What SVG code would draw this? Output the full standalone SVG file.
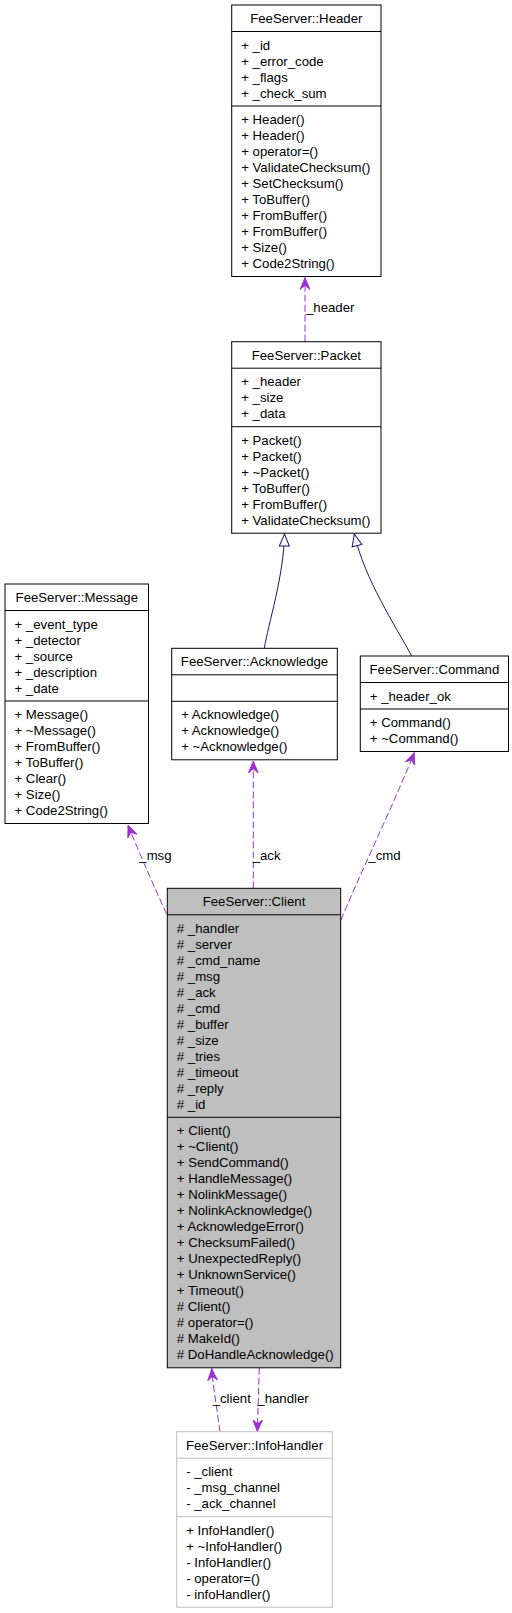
<svg xmlns="http://www.w3.org/2000/svg" width="512" height="1613" viewBox="0 0 512 1613">
<style>
text{font-family:"Liberation Sans",Arial,Helvetica,sans-serif;font-size:13.2px;fill:#000}
.t{text-anchor:middle}
.box{fill:#fff;stroke:#000;stroke-width:1}
.ln{stroke:#000;stroke-width:1}
.gbox{fill:#fff;stroke:#bfbfbf;stroke-width:1}
.gln{stroke:#bfbfbf;stroke-width:1}
.cbox{fill:#bfbfbf;stroke:#000;stroke-width:1}
.use{fill:none;stroke:#9a32cd;stroke-width:1;stroke-dasharray:7,3;marker-end:url(#vee)}
.inh{fill:none;stroke:#191970;stroke-width:1;marker-end:url(#tri)}
</style>
<defs>
<marker id="vee" markerUnits="userSpaceOnUse" markerWidth="14" markerHeight="12" refX="12" refY="5" orient="auto" viewBox="0 0 14 10">
<path d="M0,0 L12,5 L0,10 L4,5 Z" fill="#9a32cd" stroke="#9a32cd" stroke-width="0.8"/>
</marker>
<marker id="tri" markerUnits="userSpaceOnUse" markerWidth="16" markerHeight="14" refX="13" refY="6" orient="auto" viewBox="0 0 16 12">
<path d="M1,1 L13,6 L1,11 Z" fill="#fff" stroke="#191970" stroke-width="1"/>
</marker>
</defs>

<g id="connectors">
<path class="use" d="M305,341.7 L305,277.5"/>
<path class="inh" d="M264.3,648.3 C268,625 284,575 284.5,534"/>
<path class="inh" d="M411.7,656 C395,625 365,580 354.3,534"/>
<path class="use" d="M166.5,914 C158,895 140,855 128,825"/>
<path class="use" d="M253.3,888.3 L253.3,761"/>
<path class="use" d="M341,920 C355,885 400,790 414.3,752.5"/>
<path class="use" d="M220,1431.7 C217,1410 213,1385 211.7,1368.5"/>
<path class="use" d="M259.3,1367.8 L257.3,1431.7"/>
<text x="306" y="312">_header</text>
<text x="139.3" y="859.5">_msg</text>
<text x="252.7" y="859.5">_ack</text>
<text x="368.3" y="859.5">_cmd</text>
<text x="212.7" y="1403">_client</text>
<text x="257.3" y="1403">_handler</text>
</g>

<g id="header">
<rect class="box" x="231.7" y="5" width="149.3" height="271.5"/>
<line class="ln" x1="231.7" y1="31.5" x2="381" y2="31.5"/>
<line class="ln" x1="231.7" y1="106" x2="381" y2="106"/>
<text class="t" x="306.3" y="23">FeeServer::Header</text>
<text x="241.2" y="49.5">+ _id</text>
<text x="241.2" y="65.5">+ _error_code</text>
<text x="241.2" y="81.5">+ _flags</text>
<text x="241.2" y="97.5">+ _check_sum</text>
<text x="241.2" y="124">+ Header()</text>
<text x="241.2" y="140">+ Header()</text>
<text x="241.2" y="156">+ operator=()</text>
<text x="241.2" y="172">+ ValidateChecksum()</text>
<text x="241.2" y="188">+ SetChecksum()</text>
<text x="241.2" y="204">+ ToBuffer()</text>
<text x="241.2" y="220">+ FromBuffer()</text>
<text x="241.2" y="236">+ FromBuffer()</text>
<text x="241.2" y="252">+ Size()</text>
<text x="241.2" y="268">+ Code2String()</text>
</g>

<g id="packet">
<rect class="box" x="231.7" y="341.7" width="149.3" height="191.5"/>
<line class="ln" x1="231.7" y1="368.2" x2="381" y2="368.2"/>
<line class="ln" x1="231.7" y1="426.7" x2="381" y2="426.7"/>
<text class="t" x="306.3" y="359.7">FeeServer::Packet</text>
<text x="241.2" y="386.2">+ _header</text>
<text x="241.2" y="402.2">+ _size</text>
<text x="241.2" y="418.2">+ _data</text>
<text x="241.2" y="444.7">+ Packet()</text>
<text x="241.2" y="460.7">+ Packet()</text>
<text x="241.2" y="476.7">+ ~Packet()</text>
<text x="241.2" y="492.7">+ ToBuffer()</text>
<text x="241.2" y="508.7">+ FromBuffer()</text>
<text x="241.2" y="524.7">+ ValidateChecksum()</text>
</g>

<g id="message">
<rect class="box" x="5" y="584" width="143.5" height="239.5"/>
<line class="ln" x1="5" y1="610.5" x2="148.5" y2="610.5"/>
<line class="ln" x1="5" y1="701" x2="148.5" y2="701"/>
<text class="t" x="76.8" y="602">FeeServer::Message</text>
<text x="14.5" y="628.5">+ _event_type</text>
<text x="14.5" y="644.5">+ _detector</text>
<text x="14.5" y="660.5">+ _source</text>
<text x="14.5" y="676.5">+ _description</text>
<text x="14.5" y="692.5">+ _date</text>
<text x="14.5" y="719">+ Message()</text>
<text x="14.5" y="735">+ ~Message()</text>
<text x="14.5" y="751">+ FromBuffer()</text>
<text x="14.5" y="767">+ ToBuffer()</text>
<text x="14.5" y="783">+ Clear()</text>
<text x="14.5" y="799">+ Size()</text>
<text x="14.5" y="815">+ Code2String()</text>
</g>

<g id="acknowledge">
<rect class="box" x="171.7" y="648.3" width="165.6" height="111.5"/>
<line class="ln" x1="171.7" y1="674.8" x2="337.3" y2="674.8"/>
<line class="ln" x1="171.7" y1="701.3" x2="337.3" y2="701.3"/>
<text class="t" x="254.5" y="666.3">FeeServer::Acknowledge</text>
<text x="181.2" y="719.3">+ Acknowledge()</text>
<text x="181.2" y="735.3">+ Acknowledge()</text>
<text x="181.2" y="751.3">+ ~Acknowledge()</text>
</g>

<g id="command">
<rect class="box" x="360.3" y="656" width="148.2" height="95.5"/>
<line class="ln" x1="360.3" y1="682.5" x2="508.5" y2="682.5"/>
<line class="ln" x1="360.3" y1="709" x2="508.5" y2="709"/>
<text class="t" x="434.4" y="674">FeeServer::Command</text>
<text x="369.8" y="700.5">+ _header_ok</text>
<text x="369.8" y="727">+ Command()</text>
<text x="369.8" y="743">+ ~Command()</text>
</g>

<g id="client">
<rect class="cbox" x="167.3" y="888.3" width="173.4" height="479.5"/>
<line class="ln" x1="167.3" y1="914.8" x2="340.7" y2="914.8"/>
<line class="ln" x1="167.3" y1="1117.3" x2="340.7" y2="1117.3"/>
<text class="t" x="254" y="906.3">FeeServer::Client</text>
<text x="176.8" y="932.8"># _handler</text>
<text x="176.8" y="948.8"># _server</text>
<text x="176.8" y="964.8"># _cmd_name</text>
<text x="176.8" y="980.8"># _msg</text>
<text x="176.8" y="996.8"># _ack</text>
<text x="176.8" y="1012.8"># _cmd</text>
<text x="176.8" y="1028.8"># _buffer</text>
<text x="176.8" y="1044.8"># _size</text>
<text x="176.8" y="1060.8"># _tries</text>
<text x="176.8" y="1076.8"># _timeout</text>
<text x="176.8" y="1092.8"># _reply</text>
<text x="176.8" y="1108.8"># _id</text>
<text x="176.8" y="1135.3">+ Client()</text>
<text x="176.8" y="1151.3">+ ~Client()</text>
<text x="176.8" y="1167.3">+ SendCommand()</text>
<text x="176.8" y="1183.3">+ HandleMessage()</text>
<text x="176.8" y="1199.3">+ NolinkMessage()</text>
<text x="176.8" y="1215.3">+ NolinkAcknowledge()</text>
<text x="176.8" y="1231.3">+ AcknowledgeError()</text>
<text x="176.8" y="1247.3">+ ChecksumFailed()</text>
<text x="176.8" y="1263.3">+ UnexpectedReply()</text>
<text x="176.8" y="1279.3">+ UnknownService()</text>
<text x="176.8" y="1295.3">+ Timeout()</text>
<text x="176.8" y="1311.3"># Client()</text>
<text x="176.8" y="1327.3"># operator=()</text>
<text x="176.8" y="1343.3"># MakeId()</text>
<text x="176.8" y="1359.3"># DoHandleAcknowledge()</text>
</g>

<g id="infohandler">
<rect class="gbox" x="176.7" y="1431.7" width="155.6" height="175.5"/>
<line class="gln" x1="176.7" y1="1458.2" x2="332.3" y2="1458.2"/>
<line class="gln" x1="176.7" y1="1516.7" x2="332.3" y2="1516.7"/>
<text class="t" x="254.5" y="1449.7">FeeServer::InfoHandler</text>
<text x="186.2" y="1476.2">- _client</text>
<text x="186.2" y="1492.2">- _msg_channel</text>
<text x="186.2" y="1508.2">- _ack_channel</text>
<text x="186.2" y="1534.7">+ InfoHandler()</text>
<text x="186.2" y="1550.7">+ ~InfoHandler()</text>
<text x="186.2" y="1566.7">- InfoHandler()</text>
<text x="186.2" y="1582.7">- operator=()</text>
<text x="186.2" y="1598.7">- infoHandler()</text>
</g>
</svg>
